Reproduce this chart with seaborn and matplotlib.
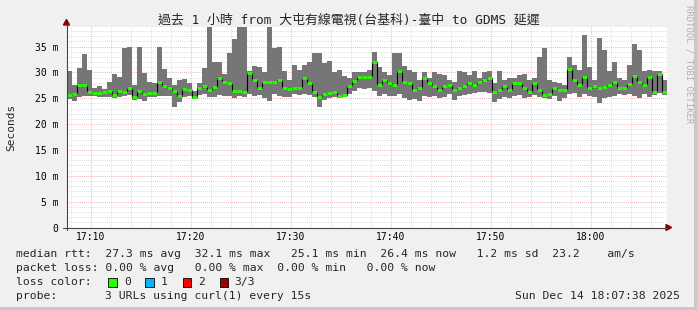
import numpy as np
import pandas as pd
import matplotlib
matplotlib.use("Agg")
import matplotlib.pyplot as plt
import seaborn as sns
from matplotlib.patches import Rectangle, Polygon
from matplotlib.lines import Line2D

# ---------------- data (milliseconds) ----------------
rtt_max = [30.3, 27.5, 30.8, 33.5, 30.4, 27.0, 27.4, 26.8, 28.2, 29.7,
           29.1, 34.8, 35.0, 27.5, 34.9, 29.9, 28.2, 28.0, 34.9, 30.6,
           28.9, 27.5, 28.5, 28.8, 28.0, 26.5, 28.0, 30.8, 38.8, 32.0,
           32.0, 29.7, 33.7, 36.4, 38.8, 38.8, 30.2, 31.2, 31.0, 30.0,
           38.8, 34.7, 35.0, 30.2, 28.5, 31.5, 30.5, 31.5, 32.1, 33.7,
           33.7, 31.8, 32.3, 30.0, 30.5, 29.3, 29.0, 30.0, 30.0, 30.0,
           30.5, 34.0, 31.0, 30.0, 29.5, 33.7, 33.7, 31.3, 30.5, 30.0,
           28.5, 30.0, 29.0, 30.0, 29.8, 29.5, 28.5, 28.2, 30.2, 30.0,
           29.5, 30.2, 29.0, 30.0, 30.2, 28.0, 30.3, 28.5, 29.0, 29.0,
           29.5, 29.8, 28.5, 29.0, 33.0, 34.7, 28.5, 28.2, 28.0, 27.5,
           33.0, 31.5, 30.5, 37.3, 31.0, 28.5, 36.6, 34.4, 30.3, 32.0,
           29.0, 28.5, 31.5, 35.6, 34.4, 30.2, 30.5, 30.2, 30.2, 28.5]
rtt_median = [25.6, 25.8, 27.5, 27.5, 26.3, 26.1, 26.0, 26.2, 26.5, 25.6,
              26.5, 26.3, 26.9, 25.2, 26.4, 25.8, 26.0, 26.1, 28.2, 27.4,
              27.0, 26.5, 25.5, 26.8, 26.6, 25.3, 27.0, 27.4, 26.7, 27.1,
              28.9, 28.2, 28.0, 26.4, 26.5, 26.3, 29.9, 28.5, 27.0, 28.2,
              28.2, 28.2, 28.5, 27.0, 26.8, 26.9, 27.0, 28.9, 28.0, 26.3,
              25.3, 25.8, 26.0, 26.3, 25.5, 25.6, 27.4, 28.4, 29.1, 29.2,
              29.2, 32.1, 27.6, 28.5, 28.0, 27.6, 30.2, 28.2, 27.9, 26.6,
              26.9, 28.9, 27.9, 27.3, 26.6, 27.3, 27.6, 26.6, 26.9, 27.3,
              27.9, 27.6, 28.2, 28.5, 29.0, 26.3, 26.6, 27.3, 26.6, 27.9,
              28.0, 26.9, 26.3, 27.9, 26.6, 25.6, 25.8, 27.0, 26.6, 26.6,
              30.6, 28.5, 27.6, 29.2, 27.0, 27.3, 26.9, 27.2, 27.5, 28.2,
              26.9, 26.9, 27.8, 29.4, 28.2, 27.5, 29.2, 26.3, 29.8, 26.3]
rtt_min = [24.8, 24.5, 25.2, 25.5, 25.5, 25.4, 25.2, 25.2, 25.3, 25.0,
           25.3, 25.5, 25.6, 24.6, 24.8, 24.5, 25.2, 25.3, 25.4, 25.5,
           25.4, 23.4, 24.3, 25.3, 25.5, 24.9, 25.6, 25.8, 25.3, 25.2,
           25.6, 25.5, 25.5, 25.1, 25.5, 25.2, 25.8, 25.5, 25.6, 25.0,
           24.4, 25.8, 25.5, 25.2, 25.3, 25.8, 25.6, 25.8, 25.7, 25.2,
           23.4, 24.6, 25.0, 25.3, 25.0, 25.3, 25.8, 26.5, 27.0, 26.8,
           27.0, 26.5, 25.5, 25.8, 25.5, 25.5, 25.8, 25.0, 24.6, 24.8,
           24.5, 25.5, 25.2, 25.5, 25.0, 25.3, 25.8, 24.6, 25.5, 25.6,
           25.8, 26.0, 26.2, 26.3, 26.0, 24.2, 24.8, 25.2, 25.0, 25.5,
           25.6, 25.0, 25.2, 25.6, 25.3, 25.0, 24.8, 25.5, 24.5, 25.0,
           25.8, 26.0, 25.2, 25.8, 25.5, 25.3, 24.0, 25.0, 25.3, 25.5,
           25.8, 25.6, 25.9, 25.5, 25.0, 25.8, 25.2, 25.6, 26.0, 25.6]

x_tick_labels = ["17:10", "17:20", "17:30", "17:40", "17:50", "18:00"]
x_tick_minutes = [10, 20, 30, 40, 50, 60]          # minutes after 17:00
y_tick_values = [0, 5, 10, 15, 20, 25, 30, 35]
y_tick_labels = ["0", "5 m", "10 m", "15 m", "20 m", "25 m", "30 m", "35 m"]

title = "過去 1 小時 from 大屯有線電視(台基科)-臺中 to GDMS 延遲"
legend_rows = [
    "median rtt:  27.3 ms avg  32.1 ms max   25.1 ms min  26.4 ms now   1.2 ms sd  23.2    am/s",
    "packet loss: 0.00 % avg   0.00 % max  0.00 % min   0.00 % now",
]
loss_labels = ["0", "1", "2", "3/3"]
loss_colors = ["#26ff00", "#00b8ff", "#ff0000", "#a00000"]
probe_text = "3 URLs using curl(1) every 15s"
stamp_text = "Sun Dec 14 18:07:38 2025"

start_min = 7 + 38 / 60.0   # 17:07:38
step_min = 0.5              # 30 s per column

# ---------------- style ----------------
sns.set_theme(style="white")
mono = "DejaVu Sans Mono"
plt.rcParams["font.family"] = [mono, "Noto Sans CJK TC"]

W, H = 697, 310
fig = plt.figure(figsize=(W / 100, H / 100), dpi=100)
fig.patch.set_facecolor("#f0f0f0")

def fx(px):
    return px / W

def fy(py):
    return 1 - py / H

ax = fig.add_axes([fx(67), fy(227.5), 600 / W, 200.5 / H])
ax.set_facecolor("white")

n = len(rtt_median)
edges = start_min + step_min * np.arange(n + 1)
df = pd.DataFrame({"t": edges[:-1], "median": rtt_median,
                   "lo": rtt_min, "hi": rtt_max})

# smoke (min..max range)
ax.stairs(df["hi"].values, edges, baseline=df["lo"].values, fill=True,
          color="#767676", lw=0, zorder=2)
# black step connector for the median
sns.lineplot(data=df, x="t", y="median", drawstyle="steps-post", color="black",
             lw=0.8, ax=ax, zorder=3, legend=False)
# green median segments
ax.hlines(df["median"], edges[:-1], edges[1:], color=loss_colors[0], lw=2.0,
          capstyle="butt", zorder=4)

ax.set_xlim(start_min, start_min + 60)
ax.set_ylim(0, 38.8)
ax.set_xticks(x_tick_minutes)
ax.set_xticklabels(x_tick_labels)
ax.set_xticks(np.arange(8, 68, 2), minor=True)
ax.set_yticks(y_tick_values)
ax.set_yticklabels(y_tick_labels)
ax.set_yticks(np.arange(0, 39, 1), minor=True)
ax.set_axisbelow(True)
ax.grid(which="minor", color="#d2d2d2", linestyle=(0, (1, 1.5)), lw=0.6)
ax.grid(which="major", color="#f09a9a", linestyle=(0, (1, 1.5)), lw=0.6)
for s in ax.spines.values():
    s.set_visible(False)
ax.tick_params(axis="both", which="major", length=2, width=0.7, color="#444444",
               labelsize=7, direction="out", colors="#444444", labelcolor="black")
ax.tick_params(axis="both", which="minor", length=0)
ax.tick_params(axis="y", pad=4)
ax.tick_params(axis="x", pad=1.5)
ax.set_xlabel("")
ax.set_ylabel("")

# axis lines with arrows (decoration)
fig.add_artist(Line2D([fx(66.5), fx(66.5)], [fy(230), fy(24)], color="#444444",
                      lw=0.8, transform=fig.transFigure))
fig.add_artist(Line2D([fx(63), fx(667)], [fy(227.5), fy(227.5)], color="#444444",
                      lw=0.8, transform=fig.transFigure))
fig.add_artist(Polygon([[fx(63.5), fy(25)], [fx(69.5), fy(25)], [fx(66.5), fy(19.5)]],
                       closed=True, color="#8b0000", transform=fig.transFigure))
fig.add_artist(Polygon([[fx(666), fy(224.5)], [fx(666), fy(230.5)], [fx(671.5), fy(227.5)]],
                       closed=True, color="#8b0000", transform=fig.transFigure))

# title, y label, watermark
fig.text(0.5, fy(20), title, ha="center", va="center", fontsize=9.3,
         family=[mono, "Noto Sans CJK TC"])
fig.text(fx(11), fy(127), "Seconds", rotation=90, ha="center", va="center",
         fontsize=8, family=mono)
fig.text(fx(689), fy(5), "RRDTOOL / TOBI OETIKER", rotation=270, ha="center",
         va="top", fontsize=6.5, family=mono, color="#b0b0b0")

# legend rows
row_y = [254.3, 268.3, 282.3, 296.2]
for i, txt in enumerate(legend_rows):
    fig.text(fx(16), fy(row_y[i]), txt, ha="left", va="center", fontsize=8.2,
             family=mono)
fig.text(fx(16), fy(row_y[2]), "loss color:", ha="left", va="center",
         fontsize=8.2, family=mono)
box_x = [108, 145.3, 182.7, 220]
lab_x = [124.4, 161, 198, 234.7]
for bx, lx, col, lab in zip(box_x, lab_x, loss_colors, loss_labels):
    fig.add_artist(Rectangle((fx(bx), fy(286.7)), 8.5 / W, 8.5 / H,
                             facecolor=col, edgecolor="black", lw=0.6,
                             transform=fig.transFigure))
    fig.text(fx(lx), fy(row_y[2]), lab, ha="left", va="center", fontsize=8.2,
             family=mono)
fig.text(fx(16), fy(row_y[3]), "probe:", ha="left", va="center", fontsize=8.2,
         family=mono)
fig.text(fx(105.3), fy(row_y[3]), probe_text, ha="left", va="center",
         fontsize=8.2, family=mono)
fig.text(fx(680), fy(row_y[3]), stamp_text, ha="right", va="center",
         fontsize=8.2, family=mono)

# frame shading
fig.add_artist(Rectangle((fx(694), 0), 3 / W, 1, facecolor="#c8c8c8", lw=0,
                         transform=fig.transFigure))
fig.add_artist(Rectangle((0, 0), 1, 3 / H, facecolor="#c8c8c8", lw=0,
                         transform=fig.transFigure))

fig.savefig("out.png", dpi=100, facecolor=fig.get_facecolor())
